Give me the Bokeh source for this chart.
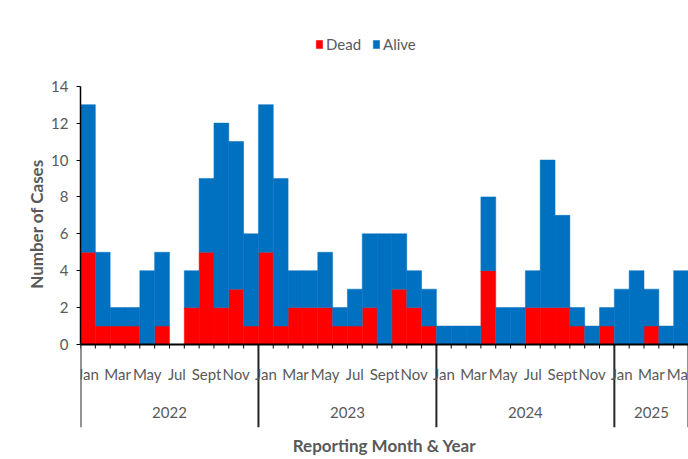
from bokeh.plotting import figure
from bokeh.models import (Range1d, FixedTicker, LinearAxis, Legend, LegendItem,
                          ColumnDataSource, Span)
from bokeh.core.properties import value
from bokeh.embed import file_html
from bokeh.resources import INLINE

# ---- data ----
years = ["2022", "2023", "2024", "2025"]
months_per_year = [12, 12, 12, 5]
month_names = ["Jan", "Feb", "Mar", "Apr", "May", "Jun",
               "Jul", "Aug", "Sept", "Oct", "Nov", "Dec"]
shown_months = ["Jan", "Mar", "May", "Jul", "Sept", "Nov"]

dead_2022 = [5, 1, 1, 1, 0, 1, 0, 2, 5, 2, 3, 1]
alive_2022 = [8, 4, 1, 1, 4, 4, 0, 2, 4, 10, 8, 5]
dead_2023 = [5, 1, 2, 2, 2, 1, 1, 2, 0, 3, 2, 1]
alive_2023 = [8, 8, 2, 2, 3, 1, 2, 4, 6, 3, 2, 2]
dead_2024 = [0, 0, 0, 4, 0, 0, 2, 2, 2, 1, 0, 1]
alive_2024 = [1, 1, 1, 4, 2, 2, 2, 8, 5, 1, 1, 1]
dead_2025 = [0, 0, 1, 0, 0]
alive_2025 = [3, 4, 2, 1, 4]

y_ticks = [0, 2, 4, 6, 8, 10, 12, 14]

dead = dead_2022 + dead_2023 + dead_2024 + dead_2025
alive = alive_2022 + alive_2023 + alive_2024 + alive_2025
n = len(dead)

x_pos = [i + 0.5 for i in range(n)]
month_lbl = []
for cnt in months_per_year:
    month_lbl += month_names[:cnt]

src = ColumnDataSource(dict(x=x_pos, Dead=dead, Alive=alive))

bounds = [0]
for cnt in months_per_year:
    bounds.append(bounds[-1] + cnt)
year_centers = [(bounds[i] + bounds[i + 1]) / 2 for i in range(len(years))]

mx, mt = [], []
for i, m in enumerate(month_lbl):
    if m in shown_months:
        mx.append(x_pos[i])
        mt.append(m)

FONT = "Lato"
GREY = "#595959"
RED = "#FF0000"
BLUE = "#0070C0"

W, H = 688, 459
FRAME_TOP, FRAME_BOTTOM = 20, 427      # screen rows of the plotting frame
Y0_PX, Y14_PX = 344, 85.7              # screen rows of value 0 and 14
ppu = (Y0_PX - Y14_PX) / 14.0
y_start = -(FRAME_BOTTOM - Y0_PX) / ppu
y_end = 14 + (Y14_PX - FRAME_TOP) / ppu

p = figure(width=W, height=H, output_backend="svg", toolbar_location=None,
           x_range=Range1d(0, n), y_range=Range1d(y_start, y_end),
           min_border_left=80, min_border_right=0, min_border_top=FRAME_TOP,
           min_border_bottom=H - FRAME_BOTTOM, x_axis_type=None, y_axis_type=None)
p.outline_line_color = None
p.xgrid.visible = False
p.ygrid.visible = False

r = p.vbar_stack(["Dead", "Alive"], x="x", width=1.0, source=src,
                 fill_color=[RED, BLUE], line_color=[RED, BLUE],
                 line_width=0.5)

# y axis limited to 0..14
ya = LinearAxis(ticker=FixedTicker(ticks=y_ticks), bounds=(0, 14))
ya.minor_tick_line_color = None
ya.major_tick_in = 0
ya.major_tick_out = 4
ya.major_tick_line_color = "black"
ya.axis_line_color = "black"
ya.axis_line_width = 1.5
ya.major_label_text_font = FONT
ya.major_label_text_font_size = "15px"
ya.major_label_text_color = GREY
ya.major_label_standoff = 8
ya.axis_label = "Number of Cases"
ya.axis_label_text_font = FONT
ya.axis_label_text_font_style = "bold"
ya.axis_label_text_font_size = "17px"
ya.axis_label_text_color = GREY
ya.axis_label_standoff = 1
p.add_layout(ya, "left")

# x axis: only the title
xa = LinearAxis(ticker=FixedTicker(ticks=[]))
xa.axis_line_color = None
xa.major_tick_line_color = None
xa.minor_tick_line_color = None
xa.axis_label = "Reporting Month & Year"
xa.axis_label_text_font = FONT
xa.axis_label_text_font_style = "bold"
xa.axis_label_text_font_size = "17px"
xa.axis_label_text_color = GREY
xa.axis_label_standoff = 7
p.add_layout(xa, "below")

# month boundary ticks and year separators
p.ray(x=list(range(n + 1)), y=0, length=4, length_units="screen",
      angle=-90, angle_units="deg", line_color="black", line_width=1)
p.ray(x=bounds, y=0, length=83, length_units="screen",
      angle=-90, angle_units="deg", line_color="#262626", line_width=2)
p.add_layout(Span(location=0, dimension="width", line_color="black",
                  line_width=2))

# month & year labels
p.text(x=mx, y=0, text=mt, y_offset=29, text_align="center",
       text_baseline="middle", text_font=value(FONT), text_font_size="15px",
       text_color=GREY)
p.text(x=year_centers, y=0, text=years, y_offset=68, text_align="center",
       text_baseline="middle", text_font=value(FONT), text_font_size="15px",
       text_color=GREY)

legend = Legend(items=[LegendItem(label="Dead", renderers=[r[0]]),
                       LegendItem(label="Alive", renderers=[r[1]])],
                orientation="horizontal", location=(235, 374),
                label_text_font=FONT, label_text_font_size="15px",
                label_text_color=GREY, glyph_width=8, glyph_height=10,
                label_standoff=3, spacing=11, border_line_color=None,
                background_fill_alpha=0, padding=0, margin=0)
p.add_layout(legend, "center")

open("out.html", "w").write(file_html(p, INLINE))
